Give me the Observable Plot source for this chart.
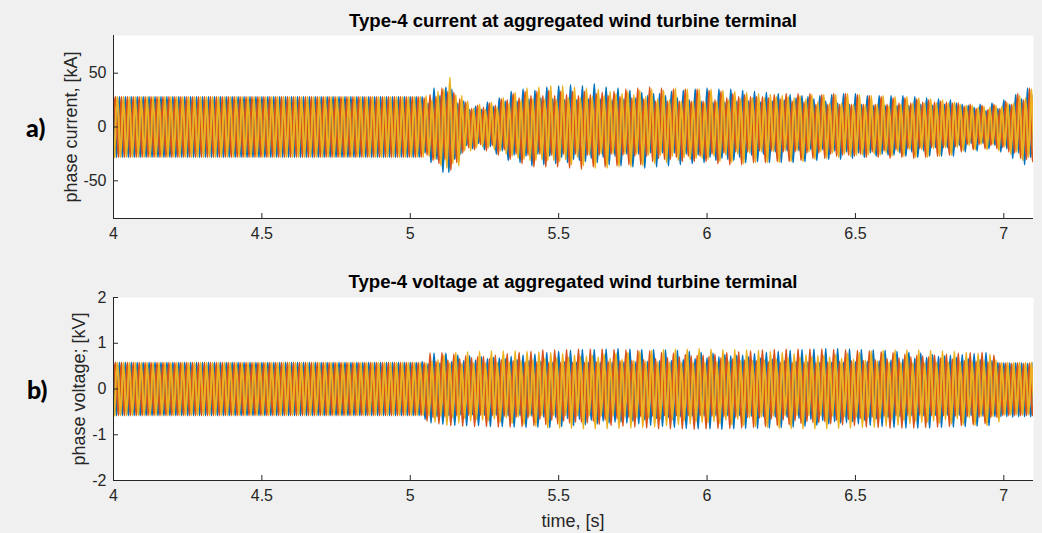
<!DOCTYPE html>
<html><head><meta charset="utf-8">
<script src="https://cdn.jsdelivr.net/npm/d3@7"></script>
<script src="https://cdn.jsdelivr.net/npm/@observablehq/plot@0.6"></script>
<style>
html,body{margin:0;padding:0;background:#f0f0f0;}
#fig{position:relative;width:1042px;height:533px;background:#f0f0f0;font-family:"Liberation Sans",Arial,sans-serif;color:#262626;overflow:hidden}
.plot{position:absolute;left:0}
.title{position:absolute;left:113px;width:920px;text-align:center;font-weight:bold;font-size:18.6px;line-height:18px;color:#000;white-space:nowrap}
.ylab{position:absolute;transform:translate(-50%,-50%) rotate(-90deg);white-space:nowrap;font-size:18px;line-height:18px}
.xlab{position:absolute;left:113px;width:920px;text-align:center;font-size:18px;line-height:18px}
.panel{position:absolute;font-family:Lato,"Open Sans",sans-serif;font-weight:900;font-size:25px;line-height:25px;color:#000}
</style></head>
<body><div id="fig"></div>
<script>
// ---- axes / ticks ----
const xDomain = [4, 7.1];
const xTicks = [4, 4.5, 5, 5.5, 6, 6.5, 7];
const currentDomain = [-85, 85];
const currentTicks = [-50, 0, 50];
const voltageDomain = [-2, 2];
const voltageTicks = [-2, -1, 0, 1, 2];

// ---- signal description ----
const phaseNames = ["A", "B", "C"];
const phaseColors = ["#0072BD", "#D95319", "#EDB120"];
const halfCycle = 0.01;        // 50 Hz: one extreme every 10 ms
const disturbStart = 5.04;     // first extreme of the disturbed part (phase A)
const currentSteady = 28;      // kA peak before the disturbance
const voltageSteady = 0.58;    // kV peak before the disturbance

// Peak magnitudes of each successive half-cycle (alternating +/-) after the disturbance
const currentA = [
28,24,22,33,36,30,29,42,37,42,
35,30,22,25,24,17,16,20,19,15,
16,21,23,18,19,25,27,22,24,31,
33,26,24,33,35,27,26,36,34,25,
27,35,37,27,26,34,38,28,25,33,
39,30,25,31,38,32,26,29,40,33,
26,28,37,35,25,27,36,36,26,25,
34,37,27,25,32,38,29,24,31,37,
31,24,29,36,33,24,27,35,34,25,
25,34,35,26,24,33,36,28,23,31,
35,29,23,30,35,31,24,28,34,33,
24,26,33,32,23,25,32,33,24,23,
31,33,25,22,30,33,27,22,29,32,
28,21,26,31,29,21,24,30,30,22,
22,30,31,23,21,29,31,24,21,28,
29,24,20,27,29,25,20,26,29,26,
20,24,29,27,20,23,28,28,21,22,
27,27,20,19,26,27,21,19,25,27,
22,17,21,23,20,15,18,22,21,15,
15,20,22,17,17,23,25,20,21,29,
30,24,26,35,36,28,29];
const currentB = [
27,26,30,31,28,34,36,30,33,40,
32,33,26,24,23,19,17,21,20,16,
18,22,22,17,20,26,26,21,25,30,
31,25,27,34,33,26,29,37,33,25,
29,37,34,26,29,37,33,25,30,38,
33,25,29,39,33,26,30,37,31,26,
32,37,29,25,33,36,28,26,35,35,
27,27,36,35,26,27,37,32,24,29,
36,30,24,30,35,28,24,32,35,27,
24,32,35,27,24,32,34,25,25,34,
33,24,27,35,31,23,28,35,30,23,
28,33,28,22,28,33,27,22,30,32,
26,23,31,32,24,23,31,31,23,24,
31,29,21,24,30,29,21,25,31,27,
21,26,31,26,21,27,30,25,21,28,
29,23,21,28,28,22,21,29,27,21,
22,28,27,20,22,29,26,20,23,28,
25,19,23,27,24,19,23,26,22,18,
22,23,19,16,21,21,17,16,20,20,
16,17,21,20,17,19,24,23,21,24,
31,29,25,30,36,32,28];
const currentC = [
29,27,25,30,33,36,35,38,46,34,
30,36,29,22,24,22,17,19,21,18,
16,19,23,21,18,22,27,25,22,27,
32,29,25,30,36,31,26,31,37,30,
26,31,38,31,25,32,38,30,27,35,
37,28,27,36,36,26,28,38,35,25,
29,38,33,25,31,37,31,25,33,37,
30,25,34,36,28,26,35,34,26,26,
34,33,25,27,36,31,24,28,35,30,
24,29,35,29,23,30,35,27,24,32,
34,26,25,33,33,25,26,34,32,24,
27,33,31,23,27,33,30,23,28,33,
29,22,28,32,27,22,29,32,26,23,
30,30,23,23,30,29,22,24,30,28,
22,25,31,27,21,26,30,26,21,26,
29,25,21,26,29,24,20,27,28,23,
21,27,28,21,22,28,27,21,22,28,
26,20,22,27,25,19,22,26,23,19,
21,22,20,17,20,21,18,16,19,21,
18,16,20,22,19,18,22,25,22,23,
29,31,27,28,35,37,30];

const voltageA = [
.60,.66,.55,.74,.78,.60,.57,.77,.78,.58,
.60,.79,.74,.56,.62,.80,.72,.56,.63,.80,
.70,.57,.66,.82,.69,.57,.68,.82,.66,.58,
.71,.83,.64,.58,.74,.84,.62,.59,.76,.83,
.60,.61,.79,.84,.58,.62,.82,.82,.59,.64,
.84,.80,.58,.66,.86,.78,.58,.68,.86,.76,
.58,.70,.87,.74,.58,.72,.88,.72,.59,.74,
.87,.70,.59,.76,.86,.67,.60,.79,.86,.64,
.61,.82,.85,.62,.62,.84,.84,.60,.64,.86,
.82,.59,.66,.87,.80,.58,.68,.87,.78,.58,
.70,.88,.75,.58,.72,.87,.73,.58,.74,.86,
.70,.59,.77,.86,.67,.60,.80,.85,.65,.61,
.82,.84,.62,.62,.84,.83,.60,.64,.86,.81,
.59,.66,.87,.79,.58,.69,.88,.76,.58,.71,
.88,.74,.58,.73,.87,.71,.59,.76,.86,.68,
.60,.79,.85,.65,.61,.82,.84,.62,.63,.84,
.82,.60,.65,.85,.80,.58,.67,.85,.78,.58,
.69,.85,.75,.57,.71,.84,.72,.57,.73,.83,
.69,.57,.75,.82,.66,.58,.77,.81,.64,.59,
.79,.80,.62,.60,.58,.60,.57,.60,.57,.61,
.57,.60,.57,.60,.56,.60,.57];
const voltageB = [
.58,.70,.78,.62,.60,.76,.79,.60,.63,.80,
.76,.58,.66,.81,.72,.57,.68,.82,.70,.57,
.71,.82,.66,.58,.74,.83,.64,.59,.77,.83,
.61,.61,.80,.82,.59,.63,.82,.80,.59,.66,
.85,.78,.58,.68,.85,.76,.58,.70,.86,.74,
.58,.72,.87,.72,.58,.74,.87,.70,.59,.77,
.87,.67,.60,.79,.86,.65,.61,.81,.85,.62,
.62,.83,.84,.60,.64,.85,.83,.59,.66,.87,
.80,.58,.68,.87,.78,.58,.70,.87,.75,.58,
.72,.88,.73,.58,.74,.87,.71,.59,.76,.86,
.68,.60,.79,.86,.66,.61,.81,.85,.63,.62,
.83,.84,.61,.63,.85,.82,.59,.65,.86,.80,
.58,.67,.87,.78,.58,.69,.87,.75,.58,.71,
.87,.73,.58,.73,.87,.71,.59,.76,.86,.68,
.60,.78,.85,.66,.61,.80,.84,.64,.62,.83,
.83,.61,.64,.84,.81,.59,.66,.85,.79,.58,
.68,.85,.76,.57,.70,.85,.73,.57,.72,.84,
.70,.58,.74,.83,.67,.58,.76,.82,.65,.59,
.78,.80,.62,.60,.79,.78,.60,.61,.80,.76,
.59,.62,.74,.62,.57,.58,.57,.58,.56,.58,
.57,.58,.56,.58,.57,.58,.56];
const voltageC = [
.57,.58,.60,.72,.64,.58,.75,.79,.58,.62,
.80,.74,.56,.64,.81,.70,.57,.66,.82,.68,
.57,.69,.83,.66,.58,.72,.83,.63,.59,.75,
.83,.61,.61,.78,.82,.59,.63,.81,.81,.59,
.66,.85,.79,.58,.67,.85,.77,.58,.69,.86,
.74,.58,.71,.87,.72,.58,.73,.87,.70,.59,
.76,.87,.67,.59,.78,.86,.65,.60,.80,.85,
.62,.62,.82,.84,.60,.63,.84,.83,.59,.65,
.86,.80,.58,.67,.87,.78,.58,.69,.87,.76,
.58,.71,.88,.73,.58,.73,.87,.71,.59,.75,
.86,.68,.60,.78,.86,.66,.61,.80,.85,.63,
.62,.82,.84,.61,.63,.84,.82,.59,.65,.86,
.80,.58,.67,.87,.77,.58,.69,.87,.75,.58,
.71,.87,.73,.58,.73,.87,.70,.59,.75,.86,
.67,.60,.78,.85,.65,.61,.80,.84,.63,.62,
.83,.83,.61,.63,.84,.81,.59,.65,.85,.79,
.58,.68,.85,.76,.57,.70,.85,.73,.57,.72,
.84,.70,.58,.74,.83,.67,.58,.76,.82,.65,
.59,.78,.80,.62,.60,.79,.78,.60,.61,.80,
.76,.60,.63,.72,.58,.57,.58,.57,.58,.56,
.58,.57,.58,.56,.58,.57,.58];

// ---- build samples: one sample per extreme, sign alternating each half-cycle ----
function buildRows(steady, phases) {
  const rows = [];
  const nSteady = Math.round((disturbStart - xDomain[0]) / halfCycle);
  phases.forEach((vals, p) => {
    const shift = p * halfCycle * 2 / 3; // 120 degrees between phases
    const mags = [];
    for (let k = -1; k < nSteady; k++) mags.push([k, steady]);
    vals.forEach((m, i) => mags.push([nSteady + i, m]));
    for (const [k, m] of mags) {
      rows.push({phase: phaseNames[p], t: xDomain[0] + k * halfCycle + shift, v: (Math.abs(k) % 2 ? -1 : 1) * m});
    }
  });
  return rows;
}
const currentRows = buildRows(currentSteady, [currentA, currentB, currentC]);
const voltageRows = buildRows(voltageSteady, [voltageA, voltageB, voltageC]);

const axisColor = "#262626";
function panel(rows, yDomain, yTicks, top) {
  const svg = Plot.plot({
    width: 1042, height: 250,
    marginLeft: 113, marginRight: 9, marginTop: top, marginBottom: 250 - top - 183,
    style: {background: "transparent", fontFamily: "'Liberation Sans', Arial, sans-serif", fontSize: "16px", color: axisColor, overflow: "visible"},
    x: {domain: xDomain},
    y: {domain: yDomain},
    color: {domain: phaseNames, range: phaseColors},
    marks: [
      Plot.frame({fill: "white", stroke: "none"}),
      Plot.line(rows, {x: "t", y: "v", z: "phase", stroke: "phase", strokeWidth: 2, curve: "monotone-x", clip: true}),
      Plot.ruleX([xDomain[0]], {stroke: axisColor}),
      Plot.ruleY([yDomain[0]], {stroke: axisColor}),
      Plot.axisX({ticks: xTicks, tickSize: -5, tickPadding: 14, tickFormat: d => String(d), label: null, stroke: axisColor}),
      Plot.axisY({ticks: yTicks, tickSize: -5, tickPadding: 12, tickFormat: d => String(d), label: null, stroke: axisColor})
    ]
  });
  svg.classList.add("plot");
  return svg;
}

const fig = document.getElementById("fig");
const p1 = panel(currentRows, currentDomain, currentTicks, 35);
p1.style.top = "0px";
fig.appendChild(p1);
const p2 = panel(voltageRows, voltageDomain, voltageTicks, 35);
p2.style.top = "262px";
fig.appendChild(p2);

function addDiv(cls, text, css) {
  const d = document.createElement("div");
  d.className = cls;
  d.textContent = text;
  Object.assign(d.style, css);
  fig.appendChild(d);
}
addDiv("title", "Type-4 current at aggregated wind turbine terminal", {top: "12px"});
addDiv("title", "Type-4 voltage at aggregated wind turbine terminal", {top: "273px"});
addDiv("ylab", "phase current, [kA]", {left: "71px", top: "127px"});
addDiv("ylab", "phase voltage; [kV]", {left: "79px", top: "389px"});
addDiv("xlab", "time, [s]", {top: "512px"});
addDiv("panel", "a)", {left: "26px", top: "115px"});
addDiv("panel", "b)", {left: "27px", top: "377px"});
</script></body></html>
